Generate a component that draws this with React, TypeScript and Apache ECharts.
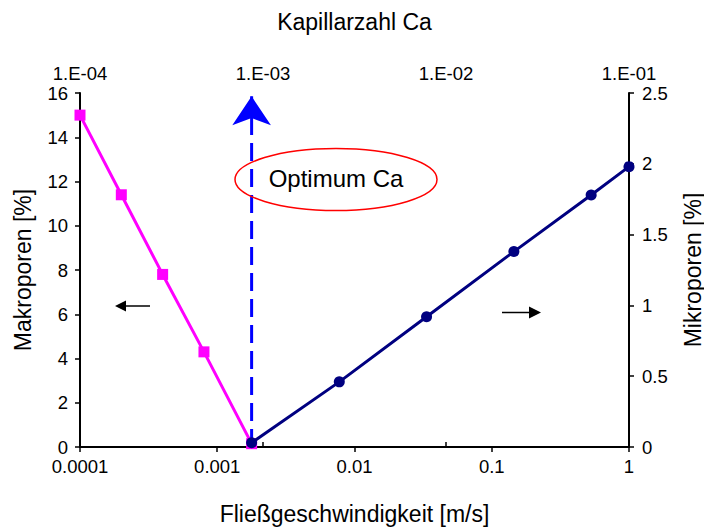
import React, { useEffect, useRef } from "react";
import * as echarts from "echarts";

const bottomTickLabels = ["0.0001", "0.001", "0.01", "0.1", "1"];
const topTickLabels = ["1.E-04", "1.E-03", "1.E-02", "1.E-01"];

const speedMakro = [0.0001, 0.0002, 0.0004, 0.0008, 0.00178];
const makro = [15, 11.4, 7.8, 4.3, 0.15];

const speedMikro = [0.00178, 0.00775, 0.0335, 0.145, 0.53, 1];
const mikro = [0.03, 0.46, 0.92, 1.38, 1.78, 1.98];

const optimumSpeed = 0.00178;
const optimumArrow = [0, 15.85];

const FONT = "'Liberation Sans', Arial, sans-serif";

export default function App() {
  const ref = useRef<HTMLDivElement>(null);
  useEffect(() => {
    if (!ref.current) return;
    const chart = echarts.init(ref.current, null, { renderer: "svg" });
    const axisLine = { show: true, lineStyle: { color: "#000", width: 2 } };
    const axisTick = { show: true, inside: false, length: 5, lineStyle: { color: "#000", width: 1.5 } };
    const labelBase = { color: "#000", fontSize: 18.5, fontFamily: FONT };
    const nameStyle = { color: "#000", fontSize: 23, fontFamily: FONT };
    const decadeIndex = (v: number, base: number) => Math.round(Math.log10(v)) - base;
    chart.setOption({
      animation: false,
      backgroundColor: "#fff",
      grid: { left: 80, right: 75, top: 93, bottom: 80, containLabel: false, outerBoundsMode: "none" },
      xAxis: [
        {
          type: "log",
          logBase: 10,
          position: "bottom",
          min: 0.0001,
          max: 1,
          axisLine,
          axisTick,
          splitLine: { show: false },
          minorTick: { show: false },
          axisLabel: {
            ...labelBase,
            margin: 10,
            formatter: (v: number) => bottomTickLabels[decadeIndex(v, -4)] ?? "",
          },
          name: "Fließgeschwindigkeit [m/s]",
          nameLocation: "middle",
          nameGap: 55,
          nameTextStyle: nameStyle,
        },
        {
          type: "log",
          logBase: 10,
          position: "top",
          min: 0.0001,
          max: 0.1,
          axisLine,
          axisTick,
          splitLine: { show: false },
          axisLabel: {
            ...labelBase,
            margin: 10,
            formatter: (v: number) => topTickLabels[decadeIndex(v, -4)] ?? "",
          },
          name: "Kapillarzahl Ca",
          nameLocation: "middle",
          nameGap: 60,
          nameTextStyle: nameStyle,
        },
      ],
      yAxis: [
        {
          type: "value",
          position: "left",
          min: 0,
          max: 16,
          interval: 2,
          axisLine,
          axisTick,
          splitLine: { show: false },
          axisLabel: { ...labelBase, margin: 12 },
          name: "Makroporen [%]",
          nameLocation: "middle",
          nameGap: 46,
          nameTextStyle: nameStyle,
        },
        {
          type: "value",
          position: "right",
          min: 0,
          max: 2.5,
          interval: 0.5,
          axisLine,
          axisTick,
          splitLine: { show: false },
          axisLabel: { ...labelBase, margin: 13 },
          name: "Mikroporen [%]",
          nameLocation: "middle",
          nameGap: 52,
          nameTextStyle: nameStyle,
        },
      ],
      series: [
        {
          type: "line",
          xAxisIndex: 0,
          yAxisIndex: 0,
          showSymbol: true,
          symbol: "none",
          lineStyle: { color: "#0000FF", width: 3, type: [18, 8] },
          itemStyle: { color: "#0000FF" },
          data: [
            { value: [optimumSpeed, optimumArrow[0]], symbol: "none" },
            { value: [optimumSpeed, optimumArrow[1]], symbol: "arrow", symbolSize: [29, 29] },
          ],
          z: 1,
        },
        {
          type: "line",
          xAxisIndex: 0,
          yAxisIndex: 0,
          symbol: "rect",
          symbolSize: 11,
          lineStyle: { color: "#FF00FF", width: 3 },
          itemStyle: { color: "#FF00FF" },
          data: speedMakro.map((s, i) => [s, makro[i]]),
          z: 2,
        },
        {
          type: "line",
          xAxisIndex: 0,
          yAxisIndex: 1,
          symbol: "circle",
          symbolSize: 11,
          lineStyle: { color: "#000080", width: 3 },
          itemStyle: { color: "#000080" },
          data: speedMikro.map((s, i) => [s, mikro[i]]),
          z: 3,
        },
      ],
      graphic: [
        {
          type: "ellipse",
          shape: { cx: 336, cy: 179.5, rx: 101, ry: 31 },
          style: { fill: "transparent", stroke: "#FF0000", lineWidth: 1.5 },
          z: 10,
        },
        {
          type: "text",
          x: 336,
          y: 178,
          style: {
            text: "Optimum Ca",
            fill: "#000",
            font: `24px ${FONT}`,
            align: "center",
            verticalAlign: "middle",
          },
          z: 11,
        },
        {
          type: "line",
          shape: { x1: 124, y1: 306, x2: 150, y2: 306 },
          style: { stroke: "#000", lineWidth: 1.5 },
        },
        {
          type: "polygon",
          shape: { points: [[115, 306], [126, 300.5], [126, 311.5]] },
          style: { fill: "#000" },
        },
        {
          type: "line",
          shape: { x1: 502, y1: 312.5, x2: 531, y2: 312.5 },
          style: { stroke: "#000", lineWidth: 1.5 },
        },
        {
          type: "polygon",
          shape: { points: [[541, 312.5], [529, 306.5], [529, 318.5]] },
          style: { fill: "#000" },
        },
      ],
    });
    return () => chart.dispose();
  }, []);
  return (
    <div
      ref={ref}
      style={{ position: "fixed", left: 0, top: 0, width: 704, height: 527, background: "#fff" }}
    />
  );
}
